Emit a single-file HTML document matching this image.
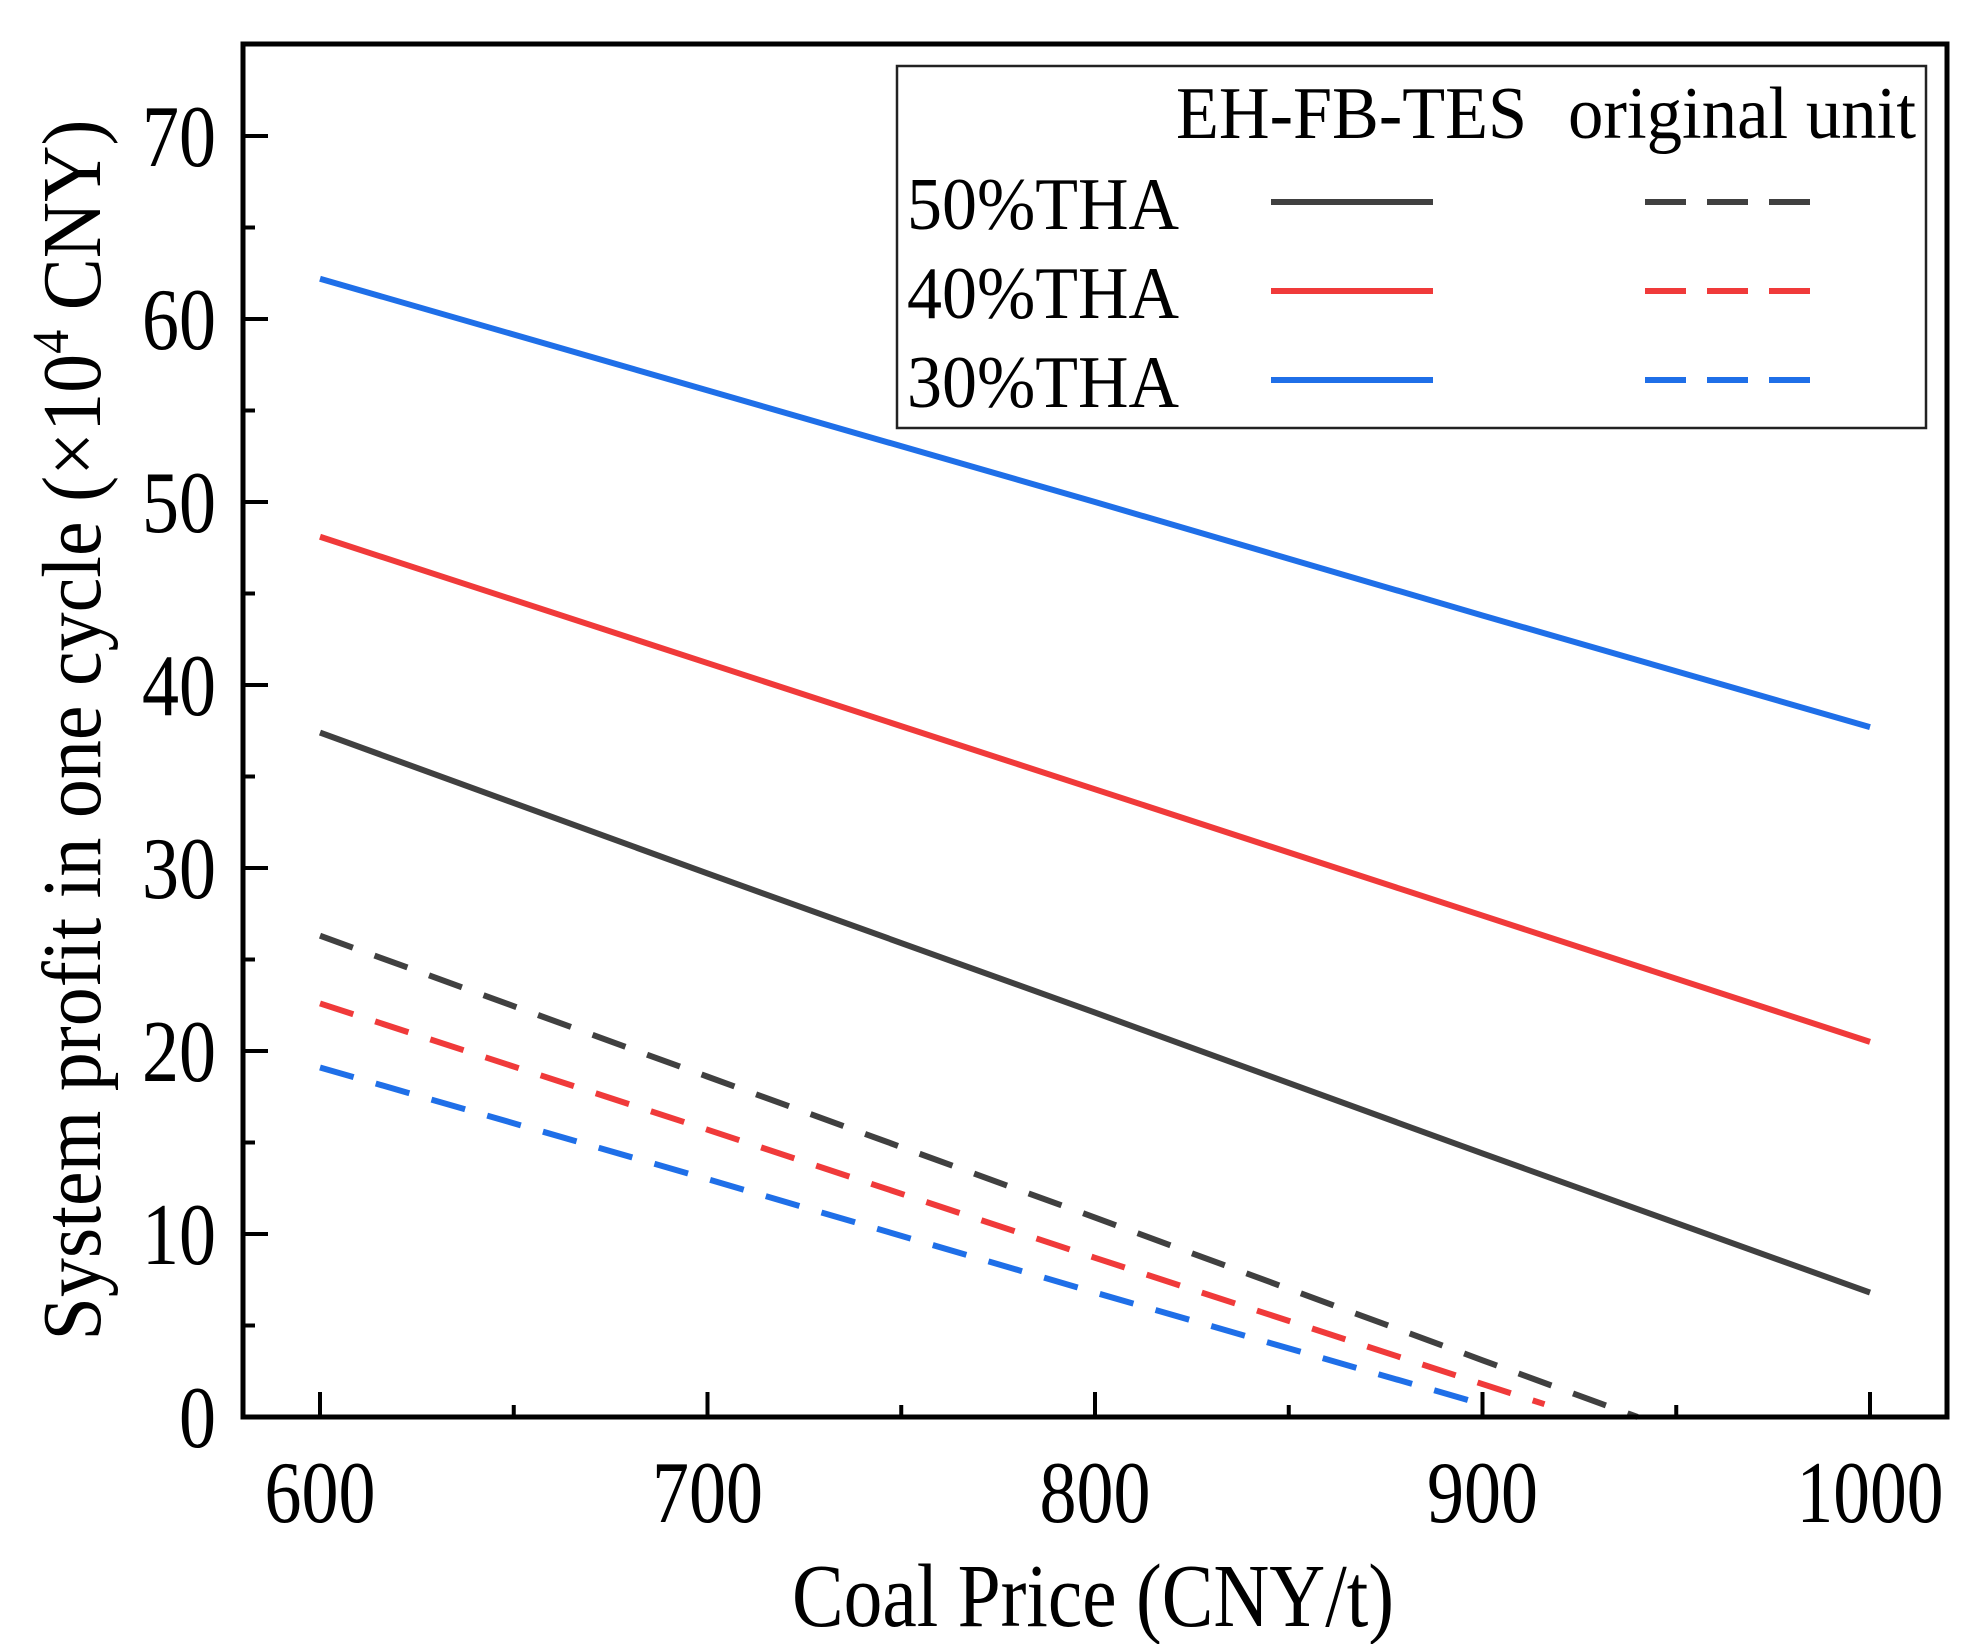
<!DOCTYPE html>
<html><head><meta charset="utf-8"><style>
html,body{margin:0;padding:0;background:#fff;}
svg{display:block;font-family:"Liberation Serif",serif;}
</style></head><body>
<svg id="chart" width="1985" height="1644" viewBox="0 0 1985 1644">
<g id="marks"></g>
<rect x="243" y="44" width="1704" height="1373" fill="none" stroke="#000" stroke-width="5"/>
<g id="ticks"></g>
<text x="1093" y="1626" font-size="90" text-anchor="middle" textLength="602" lengthAdjust="spacingAndGlyphs">Coal Price (CNY/t)</text>
<text transform="translate(100,730) rotate(-90)" font-size="84" text-anchor="middle" textLength="1221" lengthAdjust="spacingAndGlyphs">System profit in one cycle (×10<tspan font-size="52" dy="-32">4</tspan><tspan dy="32"> CNY)</tspan></text>
<g>
<rect x="897" y="66" width="1029" height="362" fill="#fff" stroke="#222" stroke-width="2.5"/>
<text x="1176" y="138" font-size="74" textLength="351" lengthAdjust="spacingAndGlyphs">EH-FB-TES</text>
<text x="1568" y="138" font-size="74" textLength="348" lengthAdjust="spacingAndGlyphs">original unit</text>
<g id="legrows"></g>
</g>
</svg>
<script>
const categories = [600, 700, 800, 900, 1000];
const eh50 = [37.4, 29.7, 22.1, 14.4, 6.8];
const eh40 = [48.1, 41.2, 34.3, 27.4, 20.5];
const eh30 = [62.2, 56.1, 50.0, 43.8, 37.7];
const orig50X = [600, 700, 800, 900, 940];
const orig50 = [26.3, 18.6, 10.9, 3.1, 0];
const orig40X = [600, 700, 800, 900, 916];
const orig40 = [22.6, 15.7, 8.7, 1.8, 0.7];
const orig30X = [600, 700, 800, 900];
const orig30 = [19.1, 13.0, 6.8, 0.7];
const xTicks = [600, 700, 800, 900, 1000];
const yTicks = [0, 10, 20, 30, 40, 50, 60, 70];
const labels = ["50%THA", "40%THA", "30%THA"];

const NS = "http://www.w3.org/2000/svg";
const xs = v => 320 + (v - 600) * 3.875;
const ys = v => 1417 - v * 18.3;
function mk(tag, attrs, parent){const e=document.createElementNS(NS,tag);for(const k in attrs)e.setAttribute(k,attrs[k]);parent.appendChild(e);return e;}
const marks=document.getElementById('marks'), ticks=document.getElementById('ticks'), leg=document.getElementById('legrows');
const series=[
 {x:categories,y:eh50,c:"#404040",d:null,n:"line-eh-50"},
 {x:categories,y:eh40,c:"#f03a3a",d:null,n:"line-eh-40"},
 {x:categories,y:eh30,c:"#1f6fe8",d:null,n:"line-eh-30"},
 {x:orig50X,y:orig50,c:"#404040",d:"35 23",n:"line-orig-50"},
 {x:orig40X,y:orig40,c:"#f03a3a",d:"35 23",n:"line-orig-40"},
 {x:orig30X,y:orig30,c:"#1f6fe8",d:"35 23",n:"line-orig-30"}];
series.forEach(s=>{
 const p=mk('polyline',{points:s.x.map((v,i)=>xs(v)+','+ys(s.y[i])).join(' '),fill:'none',stroke:s.c,'stroke-width':6},marks);
 if(s.d)p.setAttribute('stroke-dasharray',s.d);
 
 
});
for(let v=600;v<=1000;v+=50){
 const major=v%100===0;
 const t=mk('line',{x1:xs(v),x2:xs(v),y1:1417,y2:1417-(major?25:12),stroke:'#000','stroke-width':4},ticks);
 
 
}
xTicks.forEach(v=>{
 const w=String(v).length===4?147:111;
 const t=mk('text',{x:xs(v),y:1522,'font-size':88,'text-anchor':'middle',textLength:w,lengthAdjust:'spacingAndGlyphs'},ticks);t.textContent=v;
 
 
});
for(let v=0;v<=70;v+=5){
 const major=v%10===0;
 const t=mk('line',{x1:243,x2:243+(major?25:12),y1:ys(v),y2:ys(v),stroke:'#000','stroke-width':4},ticks);
 
 
}
yTicks.forEach(v=>{
 const w=String(v).length===2?74:37;
 const t=mk('text',{x:216,y:ys(v)+30,'font-size':88,'text-anchor':'end',textLength:w,lengthAdjust:'spacingAndGlyphs'},ticks);t.textContent=v;
 
 
});
const cols=["#404040","#f03a3a","#1f6fe8"];
labels.forEach((l,i)=>{
 const y=202+i*89;
 const t=mk('text',{x:907,y:y+27,'font-size':74,textLength:272,lengthAdjust:'spacingAndGlyphs'},leg);t.textContent=l;
 
 
 const a=mk('line',{x1:1271,x2:1433,y1:y,y2:y,stroke:cols[i],'stroke-width':6},leg);
 
 
 const b=mk('line',{x1:1645,x2:1810,y1:y,y2:y,stroke:cols[i],'stroke-width':6,'stroke-dasharray':'41 21'},leg);
 
 
});
</script>
</body></html>
